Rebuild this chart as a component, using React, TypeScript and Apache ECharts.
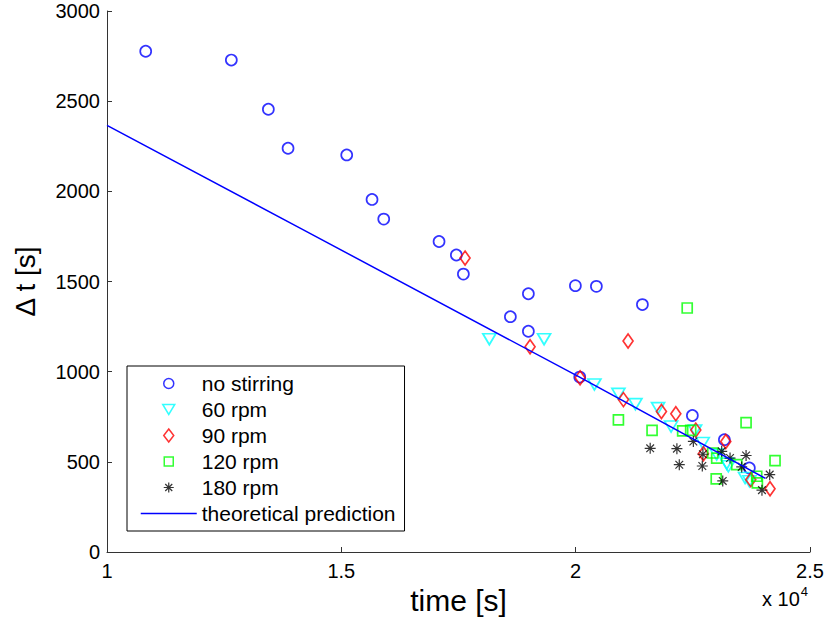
import React, { useEffect, useRef } from "react";
import * as echarts from "echarts";

const noStirringT = [10826, 12653, 13443, 13863, 15115, 15655, 15905, 17085, 17454, 17604, 18991, 19994, 20442, 21424, 18607, 18991, 20087, 22490, 23173, 23706];
const noStirringDt = [2777, 2728, 2455, 2239, 2202, 1955, 1846, 1722, 1647, 1541, 1432, 1477, 1473, 1372, 1305, 1224, 970, 757, 623, 466];

const rpm60T = [18158, 19326, 20400, 20912, 21275, 21758, 22036, 22548, 22711, 23009, 23224, 23258, 23615, 23707];
const rpm60Dt = [1180, 1180, 929, 877, 820, 798, 696, 674, 604, 540, 490, 475, 410, 392];

const rpm90T = [17640, 19027, 20094, 21019, 21118, 21830, 22137, 22563, 22725, 23203, 23736, 24147];
const rpm90Dt = [1630, 1138, 966, 845, 1170, 779, 767, 676, 545, 613, 401, 351];

const rpm120T = [22380, 20912, 21630, 22283, 22454, 22924, 23009, 23437, 23636, 22999, 23863, 23877, 24254];
const rpm120Dt = [1353, 733, 674, 672, 674, 549, 521, 484, 717, 405, 420, 383, 507];

const rpm180T = [21590, 22160, 22211, 22702, 22511, 22715, 23116, 23294, 23636, 23543, 23138, 24140, 23975];
const rpm180Dt = [575, 573, 484, 477, 613, 542, 558, 521, 535, 472, 394, 429, 343];

const theoryT = [10000, 14200, 20094, 24050];
const theoryDt = [2366, 1785, 968, 408];

const xTicks = [10000, 15000, 20000, 25000];
const legendNames = ["no stirring", "60 rpm", "90 rpm", "120 rpm", "180 rpm", "theoretical prediction"];
const seriesColors = ["#0000ff", "#00ffff", "#ff0000", "#00ff00", "#000000", "#0000ff"];

const pairs = (xs: number[], ys: number[]) => xs.map((x, i) => [x, ys[i]]);

const DOWN_TRIANGLE = "path://M0,0L20,0L10,17Z";
const ASTERISK = "path://M10,0L10,20M0,10L20,10M3,3L17,17M3,17L17,3";

// legend icons drawn inside a 56x14 box so they keep their shape
const BOX = "M0,0M56,14";
const LEG_CIRCLE = `path://${BOX}M33,7A5,5,0,1,1,23,7A5,5,0,1,1,33,7Z`;
const LEG_TRI = `path://${BOX}M22,2L34,2L28,12Z`;
const LEG_DIAMOND = `path://${BOX}M28,0.5L33,7L28,13.5L23,7Z`;
const LEG_SQUARE = `path://${BOX}M23.5,2.5L32.5,2.5L32.5,11.5L23.5,11.5Z`;
const LEG_AST = `path://${BOX}M28,2L28,12M23,7L33,7M24.5,3.5L31.5,10.5M24.5,10.5L31.5,3.5`;
const LEG_LINE = `path://${BOX}M0,7L56,7`;

const FONT = "'Liberation Sans', Arial, Helvetica, sans-serif";

export default function App() {
  const ref = useRef<HTMLDivElement>(null);
  useEffect(() => {
    if (!ref.current) return;
    const chart = echarts.init(ref.current, null, { renderer: "svg" });
    const hollow = (c: string, w = 1.7) => ({ color: "transparent", borderColor: c, borderWidth: w });
    const legendIcons = [LEG_CIRCLE, LEG_TRI, LEG_DIAMOND, LEG_SQUARE, LEG_AST, LEG_LINE];
    chart.setOption({
      animation: false,
      backgroundColor: "#fff",
      textStyle: { fontFamily: FONT },
      grid: { left: 107, right: 17, top: 11, bottom: 73, containLabel: false },
      xAxis: {
        type: "value",
        min: xTicks[0],
        max: xTicks[xTicks.length - 1],
        interval: 5000,
        name: "time [s]",
        nameLocation: "middle",
        nameGap: 31,
        nameTextStyle: { fontSize: 30, color: "#000", fontFamily: FONT },
        axisLine: { lineStyle: { color: "#333", width: 1 } },
        axisTick: { inside: true, length: 5, lineStyle: { color: "#333" } },
        axisLabel: { fontSize: 20, color: "#000", margin: 9, formatter: (v: number) => String(v / 10000), fontFamily: FONT },
        splitLine: { show: false },
      },
      yAxis: {
        type: "value",
        min: 0,
        max: 3000,
        interval: 500,
        name: "Δ t [s]",
        nameLocation: "middle",
        nameGap: 68,
        nameTextStyle: { fontSize: 28, color: "#000", fontFamily: FONT },
        axisLine: { show: true, lineStyle: { color: "#333", width: 1 } },
        axisTick: { show: true, inside: true, length: 5, lineStyle: { color: "#333" } },
        axisLabel: { fontSize: 20, color: "#000", margin: 7, formatter: (v: number) => String(v), fontFamily: FONT },
        splitLine: { show: false },
      },
      legend: {
        orient: "vertical",
        left: 127,
        top: 366,
        padding: [7, 9, 7, 13],
        itemWidth: 56,
        itemHeight: 14,
        itemGap: 5,
        borderColor: "#000",
        borderWidth: 1,
        selectedMode: false,
        textStyle: { fontSize: 21, color: "#000", fontFamily: FONT },
        data: legendNames.map((name, i) => ({
          name,
          icon: legendIcons[i],
          itemStyle: { color: "transparent", borderColor: seriesColors[i], borderWidth: i === 4 ? 1.2 : 1.5 },
        })),
      },
      graphic: [
        {
          type: "text",
          left: 762,
          top: 585,
          style: {
            text: "{b|x 10}{s|4}",
            fill: "#000",
            fontFamily: FONT,
            rich: {
              b: { fontSize: 20, verticalAlign: "bottom", fontFamily: FONT },
              s: { fontSize: 13, verticalAlign: "bottom", padding: [0, 0, 11, 1], fontFamily: FONT },
            },
          },
        },
      ],
      series: [
        { name: legendNames[0], type: "scatter", symbol: "circle", symbolSize: 11, itemStyle: hollow(seriesColors[0]), data: pairs(noStirringT, noStirringDt) },
        { name: legendNames[1], type: "scatter", symbol: DOWN_TRIANGLE, symbolSize: [13, 11], itemStyle: hollow(seriesColors[1]), data: pairs(rpm60T, rpm60Dt) },
        { name: legendNames[2], type: "scatter", symbol: "diamond", symbolSize: [10, 14], itemStyle: hollow(seriesColors[2]), data: pairs(rpm90T, rpm90Dt) },
        { name: legendNames[3], type: "scatter", symbol: "rect", symbolSize: 10, itemStyle: hollow(seriesColors[3]), data: pairs(rpm120T, rpm120Dt) },
        { name: legendNames[4], type: "scatter", symbol: ASTERISK, symbolSize: 11, itemStyle: hollow(seriesColors[4], 1.2), data: pairs(rpm180T, rpm180Dt) },
        { name: legendNames[5], type: "line", showSymbol: false, symbol: "none", lineStyle: { color: seriesColors[5], width: 1.5 }, itemStyle: { color: seriesColors[5] }, data: pairs(theoryT, theoryDt) },
      ],
    });
    return () => chart.dispose();
  }, []);
  return <div ref={ref} style={{ width: 827, height: 625, position: "absolute", left: 0, top: 0 }} />;
}
